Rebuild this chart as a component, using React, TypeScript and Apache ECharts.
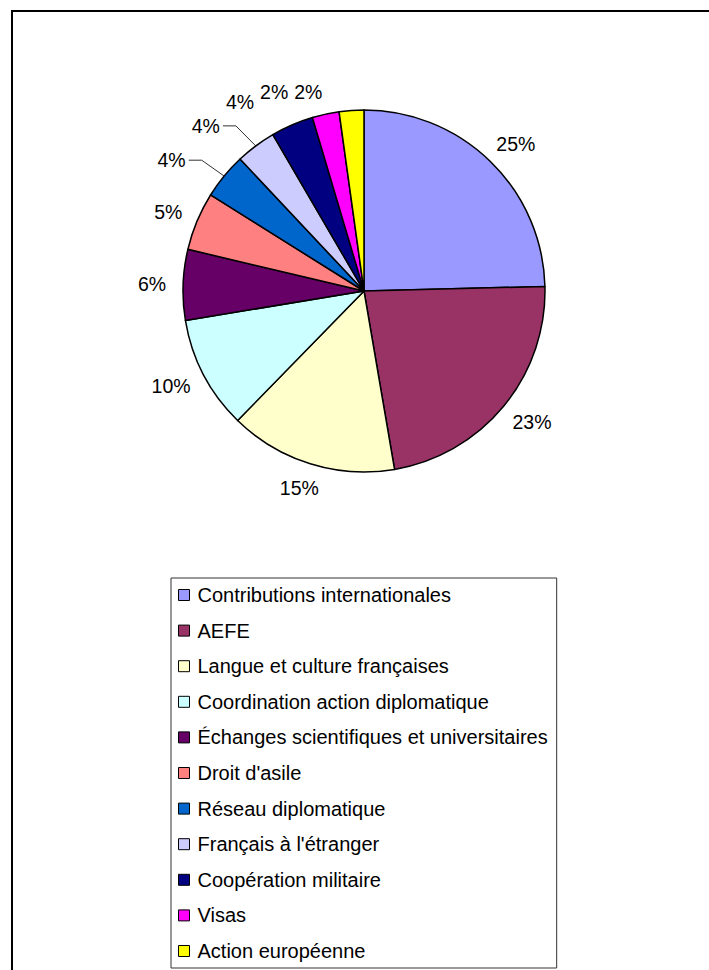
import React, { useEffect, useRef } from "react";
import * as echarts from "echarts";

const categories = [
  "Contributions internationales",
  "AEFE",
  "Langue et culture françaises",
  "Coordination action diplomatique",
  "Échanges scientifiques et universitaires",
  "Droit d'asile",
  "Réseau diplomatique",
  "Français à l'étranger",
  "Coopération militaire",
  "Visas",
  "Action européenne",
];
const shares = [24.6, 22.7, 15.0, 10.1, 6.3, 5.2, 4.1, 3.6, 3.8, 2.4, 2.2];
const colors = [
  "#9999FF",
  "#993366",
  "#FFFFCC",
  "#CCFFFF",
  "#660066",
  "#FF8080",
  "#0066CC",
  "#CCCCFF",
  "#000080",
  "#FF00FF",
  "#FFFF00",
];
const leaderItems = ["Réseau diplomatique", "Français à l'étranger"];

const CX = 364;
const CY = 291;
const R = 181;
const FONT_SIZE = 19.5;
const LEGEND_FONT_SIZE = 20;
const FONT = "'Liberation Sans', Arial, sans-serif";

type Lbl = { mid: number; w: number; x: number; y: number; edge: number[] };

function computeLabels(): Lbl[] {
  const total = shares.reduce((a, b) => a + b, 0);
  const ctx = document.createElement("canvas").getContext("2d") as CanvasRenderingContext2D;
  ctx.font = `${FONT_SIZE}px ${FONT}`;
  const G = 17, H = 16, TOP_MIN = 84, GAP = 6, VSEP = 40;
  let cum = 0;
  const out: Lbl[] = shares.map((v) => {
    const mid = ((cum + v / 2) / total) * 2 * Math.PI;
    cum += v;
    const text = Math.round((v / total) * 100) + "%";
    const w = ctx.measureText(text).width;
    return { mid, w, x: 0, y: 0, edge: [0, 0] };
  });
  const place = (L: Lbl, t: number) => {
    const dx = Math.sin(t), dy = -Math.cos(t);
    L.x = CX + (R + G) * dx + (dx * L.w) / 2;
    L.y = CY + (R + G) * dy + (dy * H) / 2;
  };
  out.forEach((L) => {
    L.edge = [CX + R * Math.sin(L.mid), CY - R * Math.cos(L.mid)];
    let t = L.mid;
    place(L, t);
    let guard = 0;
    while (L.y - H / 2 < TOP_MIN && guard++ < 400) {
      t += (Math.sin(t) < 0 ? -1 : 1) * (Math.PI / 720);
      place(L, t);
    }
  });
  for (let i = out.length - 2; i >= 0; i--) {
    const A = out[i], B = out[i + 1];
    if (Math.abs(A.y - B.y) < VSEP && A.x < CX && B.x < CX) {
      const maxX = B.x - B.w / 2 - GAP - A.w / 2;
      if (A.x > maxX) A.x = maxX;
    }
  }
  return out;
}

export default function App() {
  const ref = useRef<HTMLDivElement>(null);
  useEffect(() => {
    if (!ref.current) return;
    const chart = echarts.init(ref.current, undefined, { renderer: "svg" });
    const labels = computeLabels();
    const total = shares.reduce((a, b) => a + b, 0);
    const data = categories.map((name, i) => ({
      name,
      value: shares[i],
      itemStyle: { color: colors[i] },
      labelLine: { show: leaderItems.includes(name) },
    }));
    chart.setOption({
      animation: false,
      backgroundColor: "#ffffff",
      textStyle: { fontFamily: FONT },
      graphic: [
        {
          type: "rect",
          z: -10,
          silent: true,
          shape: { x: 12, y: 11, width: 800, height: 1000 },
          style: { fill: "none", stroke: "#000", lineWidth: 2 },
        },
      ],
      legend: {
        orient: "vertical",
        left: 171,
        top: 578,
        padding: [7, 9, 7, 7],
        itemWidth: 11,
        itemHeight: 11,
        itemGap: 15.6,
        icon: "rect",
        selectedMode: false,
        borderColor: "#333",
        borderWidth: 1,
        itemStyle: { borderColor: "#000", borderWidth: 1 },
        textStyle: {
          color: "#000",
          fontSize: LEGEND_FONT_SIZE,
          fontFamily: FONT,
          lineHeight: 20,
          padding: [0, 0, 0, 3],
        },
        data: categories,
      },
      series: [
        {
          type: "pie",
          center: [CX, CY],
          radius: R,
          startAngle: 90,
          clockwise: true,
          avoidLabelOverlap: false,
          silent: true,
          itemStyle: { borderColor: "#000", borderWidth: 1.5 },
          label: {
            show: true,
            position: "outside",
            color: "#000",
            fontSize: FONT_SIZE,
            fontFamily: FONT,
            formatter: (p: any) => Math.round((p.value / total) * 100) + "%",
          },
          labelLine: { show: false, lineStyle: { color: "#333", width: 1 } },
          labelLayout: (p: any) => {
            const L = labels[p.dataIndex];
            const res: any = { x: L.x, y: L.y, align: "center", verticalAlign: "middle" };
            if (leaderItems.includes(categories[p.dataIndex])) {
              const right = L.x + L.w / 2;
              res.labelLinePoints = [
                [L.edge[0], L.edge[1]],
                [right + 16, L.y],
                [right + 3, L.y],
              ];
            }
            return res;
          },
          data,
        },
      ],
    });
    return () => chart.dispose();
  }, []);
  return (
    <div
      ref={ref}
      style={{ position: "fixed", left: 0, top: 0, width: 709, height: 970, background: "#fff" }}
    />
  );
}
